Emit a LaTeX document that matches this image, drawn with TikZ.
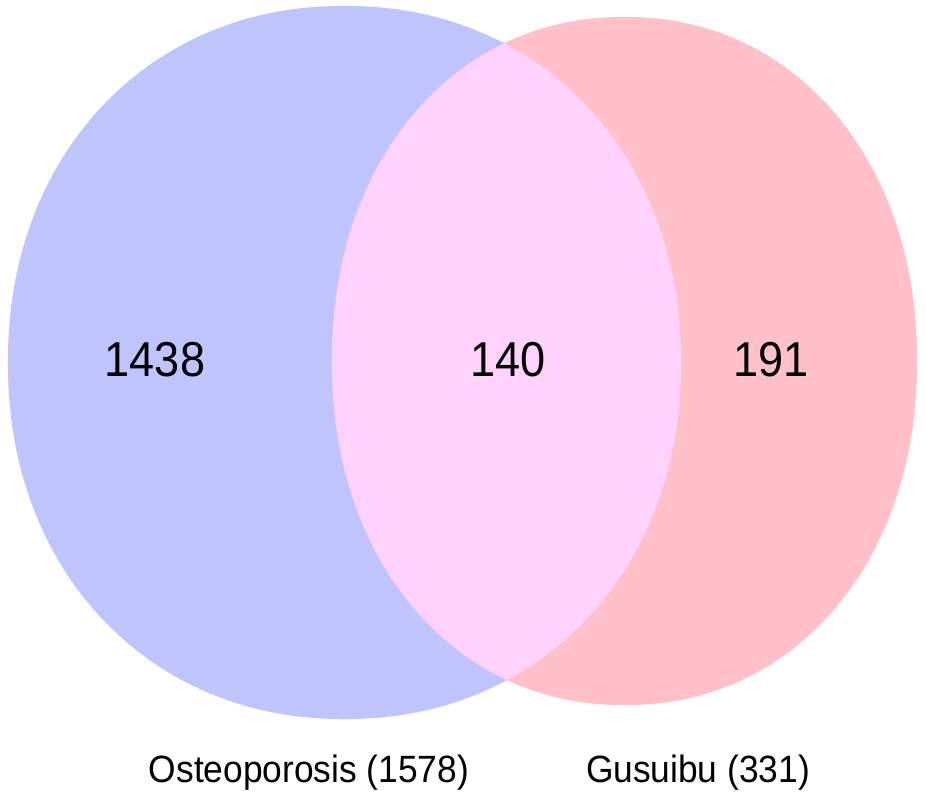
\documentclass[tikz,border=0pt]{standalone}
\usepackage{fontspec}
\setmainfont{Liberation Sans}
\definecolor{setA}{RGB}{191,196,254}
\definecolor{setB}{RGB}{255,192,202}
\definecolor{setAB}{RGB}{254,210,252}
\def\shapeA{plot[domain=0.5:360.5,samples=241,variable=\t,smooth]
  ({344.5+336.5*sign(cos(\t))*abs(cos(\t))^(0.95)},{362.5+356.5*sign(sin(\t))*abs(sin(\t))^(0.95)}) -- cycle}
\def\shapeB{plot[domain=0.5:360.5,samples=241,variable=\t,smooth]
  ({624.5+292.5*sign(cos(\t))*abs(cos(\t))^(0.95)},{361+344*sign(sin(\t))*abs(sin(\t))^(0.95)}) -- cycle}
\begin{document}
\begin{tikzpicture}[x=1pt,y=-1pt,
  count/.style={font=\fontsize{49}{50}\selectfont, xscale=0.92, transform shape, inner sep=0pt},
  setlabel/.style={font=\fontsize{38}{40}\selectfont, xscale=0.93, transform shape, inner sep=0pt}]
\useasboundingbox (0,0) rectangle (926,799);
\fill[white] (0,0) rectangle (926,799);
\fill[setA] \shapeA;
\fill[setB] \shapeB;
\begin{scope}
  \clip \shapeA;
  \fill[setAB] \shapeB;
\end{scope}
\node[count] (a) at (155,360) {1438};
\node[count] (ab) at (508,360) {140};
\node[count] (b) at (771,360) {191};
\node[setlabel] (la) at (309,773) {Osteoporosis (1578)};
\node[setlabel] (lb) at (698,773) {Gusuibu (331)};
\end{tikzpicture}
\end{document}
